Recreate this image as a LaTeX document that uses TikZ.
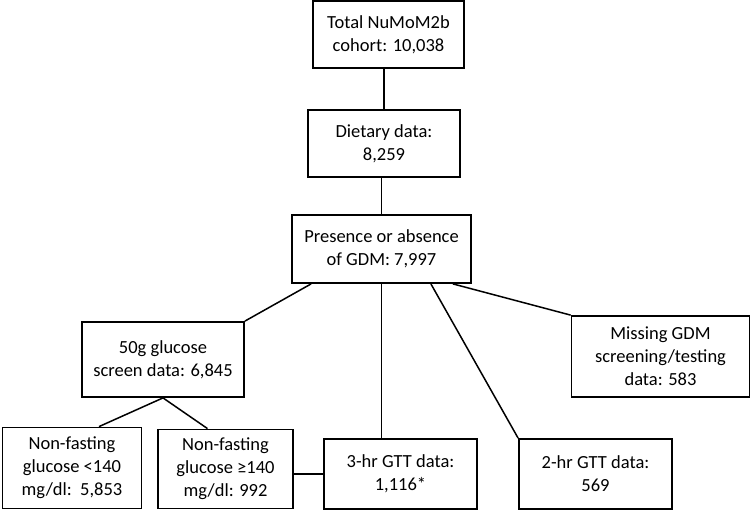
\documentclass[tikz,border=0pt]{standalone}
\usepackage{fontspec}
\setmainfont{Carlito}
\tikzset{box/.style={draw,line width=1.8pt,align=center,inner sep=2pt,
  font=\fontsize{18.5}{23}\selectfont},
  link/.style={line width=1.5pt}}
\begin{document}
\begin{tikzpicture}[x=1pt,y=-1pt]
   \useasboundingbox (0,0) rectangle (752,510);
   \node[box,minimum width=151pt,minimum height=67pt] (total) at (388.5,34.5) {Total NuMoM2b\\cohort: 10,038};
   \node[box,minimum width=152pt,minimum height=67pt] (diet) at (384,143.5) {Dietary data:\\8,259};
   \node[box,minimum width=179pt,minimum height=68pt] (pres) at (381.5,249) {Presence or absence\\of GDM: 7,997};

   \node[box,minimum width=162pt,minimum height=75pt] (glu50) at (163,359.5) {50g glucose\\screen data: 6,845};
   \node[box,minimum width=178pt,minimum height=81pt] (miss) at (660.5,356.5) {Missing GDM\\screening/testing\\data: 583};

   \node[box,minimum width=139pt,minimum height=81pt] (low) at (72,468) {Non-fasting\\glucose <140\\mg/dl:\ \ 5,853};
   \node[box,minimum width=135pt,minimum height=79pt] (high) at (225.5,469) {Non-fasting\\glucose ≥140\\mg/dl: 992};
   \node[box,minimum width=153pt,minimum height=70pt] (gtt3) at (400.5,474) {3-hr GTT data:\\1,116*};
   \node[box,minimum width=153pt,minimum height=70pt] (gtt2) at (595.5,474) {2-hr GTT data:\\569};

   % links
   \draw[link] (diet.north) -- (diet.north |- total.south);
   \draw[link] (pres.north) -- (pres.north |- diet.south);
   \draw[link] ([xshift=20pt]pres.south west) -- (glu50.north east);
   \draw[link] (pres.south) -- (pres.south |- gtt3.north);
   \draw[link] ([xshift=-41pt]pres.south east) -- (gtt2.north west);
   \draw[link] ([xshift=-19pt]pres.south east) -- (miss.north west);
   \draw[link] (glu50.south) -- ([xshift=27pt]low.north);
   \draw[link] (glu50.south) -- ([xshift=-18pt]high.north);
   \draw[link] ([yshift=-5pt]high.east) -- ([yshift=-5pt]high.east -| gtt3.west);
\end{tikzpicture}
\end{document}
